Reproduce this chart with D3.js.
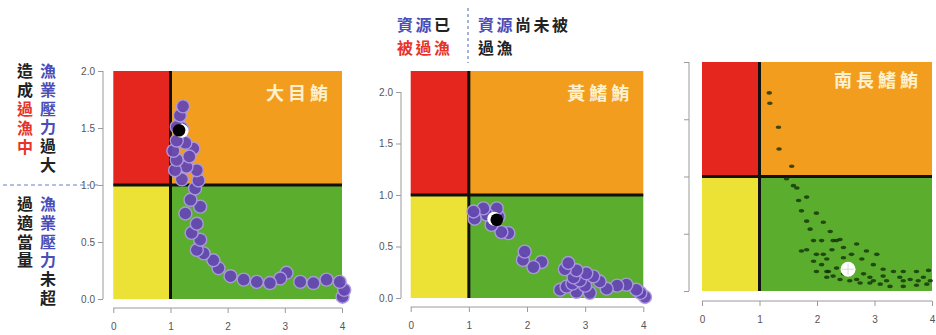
<!DOCTYPE html>
<html>
<head>
<meta charset="utf-8">
<script src="https://cdn.jsdelivr.net/npm/d3@7"></script>
<style>
  body { margin: 0; background: #fff; }
  svg { display: block; }
</style>
</head>
<body>
<svg id="chart" width="936" height="335"></svg>
<script>
// ---- Data: B/Bmsy (x) and F/Fmsy (y) for each stock ----
const xTicks = [0, 1, 2, 3, 4];
const yTicks = [0, 0.5, 1, 1.5, 2];
const stockNames = ["大目鮪", "黃鰭鮪", "南長鰭鮪"];

// 大目鮪 (bigeye) yearly trajectory
const bigeyeB = [4.01, 4.04, 3.96, 3.73, 3.50, 3.27, 3.03, 2.92, 2.74, 2.51, 2.28, 2.05, 1.84, 1.75, 1.58, 1.46,
                 1.52, 1.37, 1.46, 1.26, 1.52, 1.35, 1.43, 1.49, 1.20, 1.46, 1.28, 1.08, 1.11, 1.40, 1.33, 1.05,
                 1.26, 1.11, 1.20, 1.11, 1.165, 1.22];
const bigeyeF = [0.02, 0.08, 0.15, 0.17, 0.14, 0.15, 0.23, 0.18, 0.14, 0.15, 0.17, 0.20, 0.27, 0.34, 0.40, 0.43,
                 0.52, 0.58, 0.66, 0.75, 0.81, 0.87, 0.97, 1.04, 1.05, 1.13, 1.16, 1.13, 1.22, 1.32, 1.25, 1.30,
                 1.37, 1.39, 1.50, 1.51, 1.61, 1.69];
const bigeyeNow = [1.15, 1.48];

// 黃鰭鮪 (yellowfin) yearly trajectory
const yellowfinB = [4.03, 3.95, 3.88, 3.71, 3.55, 3.37, 3.08, 2.85, 2.57, 2.68, 2.78, 3.00, 2.91, 3.25, 3.14, 2.80,
                    3.02, 2.85, 2.65, 2.71, 2.25, 2.11, 1.93, 1.96, 1.68, 1.56, 1.39, 1.51, 1.48, 1.31, 1.10, 1.25, 1.08];
const yellowfinF = [0.01, 0.05, 0.08, 0.13, 0.12, 0.09, 0.05, 0.06, 0.08, 0.11, 0.14, 0.12, 0.17, 0.16, 0.21, 0.20,
                    0.24, 0.27, 0.28, 0.34, 0.35, 0.30, 0.37, 0.45, 0.63, 0.64, 0.71, 0.79, 0.87, 0.81, 0.77, 0.87, 0.84];
const yellowfinNow = [1.48, 0.76];

// 南長鰭鮪 (south albacore) model-run estimates
const albacoreB = [1.17, 1.18, 1.33, 1.34, 1.56, 1.47, 1.59,
                   1.68, 1.73, 1.82, 1.88, 1.94, 1.99, 2.08, 2.17, 2.28, 2.40, 2.57, 2.75, 2.92, 3.10, 3.27, 3.50, 3.73, 3.91,
                   1.65, 1.82, 1.99, 2.11, 2.23, 2.34, 2.46, 2.60, 2.78, 2.98, 3.15, 3.33, 3.50, 3.73, 3.94,
                   1.73, 1.82, 1.94, 2.11, 2.28, 2.40, 2.69, 2.86, 3.04, 2.20, 2.34, 2.57, 2.81, 2.92, 3.15, 3.44,
                   3.62, 3.85, 3.97, 2.17, 2.46, 2.69, 2.98, 3.21, 3.50, 3.76, 2.08, 2.26, 2.46, 2.17, 1.99];
const albacoreF = [1.73, 1.64, 1.43, 1.24, 1.09, 0.98, 0.92,
                   0.79, 0.70, 0.61, 0.54, 0.44, 0.32, 0.23, 0.17, 0.13, 0.10, 0.09, 0.07, 0.07, 0.06, 0.04, 0.04, 0.05, 0.06,
                   0.90, 0.82, 0.68, 0.60, 0.52, 0.44, 0.38, 0.32, 0.28, 0.23, 0.19, 0.17, 0.17, 0.17, 0.18,
                   0.35, 0.36, 0.26, 0.32, 0.44, 0.45, 0.41, 0.35, 0.32, 0.17, 0.20, 0.17, 0.15, 0.12, 0.13, 0.12,
                   0.10, 0.12, 0.09, 0.12, 0.15, 0.10, 0.09, 0.09, 0.09, 0.09, 0.44, 0.36, 0.29, 0.28, 0.17];
const albacoreNow = [2.54, 0.19];

// ---- Layout of the three Kobe panels ----
const panels = [
  { name: stockNames[0], B: bigeyeB, F: bigeyeF, now: bigeyeNow, style: "circle",
    left: 113.3, right: 342, top: 71, bottom: 299, yMax: 2, yAxisX: 103, xAxisY: 308,
    yLabels: true, titleY: 100, nowStyle: "moonR" },
  { name: stockNames[1], B: yellowfinB, F: yellowfinF, now: yellowfinNow, style: "circle",
    left: 410.7, right: 643.3, top: 71, bottom: 298, yMax: 2.204, yAxisX: 401, xAxisY: 307,
    yLabels: true, titleY: 100, nowStyle: "moonL" },
  { name: stockNames[2], B: albacoreB, F: albacoreF, now: albacoreNow, style: "dot",
    left: 702, right: 932, top: 62, bottom: 291, yMax: 2, yAxisX: 689, xAxisY: 301,
    yLabels: false, titleY: 87, nowStyle: "cross" }
];

const colors = { red: "#e5261f", orange: "#f39d1e", yellow: "#ebe235", green: "#5bad2e" };
const cjk = "'Noto Sans CJK TC', 'Noto Sans CJK SC', sans-serif";
const svg = d3.select("#chart");

panels.forEach(p => {
  const x = d3.scaleLinear().domain([0, 4]).range([p.left, p.right]);
  const y = d3.scaleLinear().domain([0, p.yMax]).range([p.bottom, p.top]);
  const g = svg.append("g");

  // quadrants
  const quads = [
    { x0: 0, x1: 1, y0: 1, y1: p.yMax, c: colors.red },
    { x0: 1, x1: 4, y0: 1, y1: p.yMax, c: colors.orange },
    { x0: 0, x1: 1, y0: 0, y1: 1, c: colors.yellow },
    { x0: 1, x1: 4, y0: 0, y1: 1, c: colors.green }
  ];
  g.selectAll("rect.q").data(quads).join("rect")
    .attr("x", d => x(d.x0)).attr("y", d => y(d.y1))
    .attr("width", d => x(d.x1) - x(d.x0)).attr("height", d => y(d.y0) - y(d.y1))
    .attr("fill", d => d.c);

  // reference lines at 1
  g.append("line").attr("x1", x(1)).attr("x2", x(1)).attr("y1", y(p.yMax)).attr("y2", y(0))
    .attr("stroke", "#111").attr("stroke-width", 3);
  g.append("line").attr("x1", x(0)).attr("x2", x(4)).attr("y1", y(1)).attr("y2", y(1))
    .attr("stroke", "#111").attr("stroke-width", 3);

  // stock name
  g.append("text").attr("x", p.right - 10).attr("y", p.titleY)
    .attr("text-anchor", "end").attr("fill", "#fdf1cf")
    .attr("font-family", cjk).attr("font-weight", 700).attr("font-size", 18)
    .attr("letter-spacing", 4).text(p.name);

  // trajectory marks
  const pts = p.B.map((b, i) => [b, p.F[i]]);
  if (p.style === "circle") {
    g.selectAll("circle.pt").data(pts).join("circle")
      .attr("cx", d => x(d[0])).attr("cy", d => y(d[1])).attr("r", 6.5)
      .attr("fill", "#6547b3").attr("stroke", "#ac9be0").attr("stroke-width", 1.4)
      .attr("opacity", 0.95);
  } else {
    g.selectAll("ellipse.pt").data(pts).join("ellipse")
      .attr("cx", d => x(d[0])).attr("cy", d => y(d[1])).attr("rx", 2.8).attr("ry", 1.8)
      .attr("fill", "#10300a").attr("opacity", 0.8);
  }

  // latest estimate
  const cx = x(p.now[0]), cy = y(p.now[1]);
  if (p.nowStyle === "moonR") {
    g.append("circle").attr("cx", cx + 2.5).attr("cy", cy + 0.5).attr("r", 7).attr("fill", "#fff");
    g.append("circle").attr("cx", cx).attr("cy", cy).attr("r", 6.3).attr("fill", "#000");
  } else if (p.nowStyle === "moonL") {
    g.append("circle").attr("cx", cx - 2.5).attr("cy", cy - 1).attr("r", 7).attr("fill", "#fff");
    g.append("circle").attr("cx", cx).attr("cy", cy).attr("r", 6.3).attr("fill", "#000");
  } else {
    g.append("circle").attr("cx", cx).attr("cy", cy).attr("r", 7.5).attr("fill", "#fff");
    g.append("line").attr("x1", cx - 6).attr("x2", cx + 6).attr("y1", cy).attr("y2", cy)
      .attr("stroke", "#d8d8d8").attr("stroke-width", 1);
    g.append("line").attr("x1", cx).attr("x2", cx).attr("y1", cy - 6).attr("y2", cy + 6)
      .attr("stroke", "#d8d8d8").attr("stroke-width", 1);
  }

  // axes, detached from the plot region
  const yAxis = d3.axisLeft(y).tickValues(yTicks).tickSizeOuter(0).tickSize(5)
    .tickFormat(p.yLabels ? d3.format(".1f") : () => "");
  const ya = svg.append("g").attr("transform", `translate(${p.yAxisX},0)`).call(yAxis);
  const xAxis = d3.axisBottom(x).tickValues(xTicks).tickSizeOuter(0).tickSize(5).tickFormat(d3.format("d"));
  const xa = svg.append("g").attr("transform", `translate(0,${p.xAxisY})`).call(xAxis);
  [ya, xa].forEach(a => {
    a.select(".domain").remove();
    a.selectAll(".tick line").attr("stroke", "#9a9a9a");
    a.selectAll(".tick text").attr("fill", "#555").attr("font-size", 10)
      .attr("font-family", "'Liberation Sans', Arial, sans-serif");
  });
  xa.selectAll(".tick text").attr("dy", "1.35em");
  ya.append("line").attr("x1", 0).attr("x2", 0).attr("y1", y(0)).attr("y2", y(2)).attr("stroke", "#9a9a9a");
  xa.append("line").attr("y1", 0).attr("y2", 0).attr("x1", x(0)).attr("x2", x(4)).attr("stroke", "#9a9a9a");
});

// ---- Vertical annotations beside the first panel ----
const blue = "#4b4db8", red = "#e8332a", ink = "#222";
const sideColumns = [
  { x: 25, y0: 63, segs: [["造成", ink], ["過漁中", red]] },
  { x: 48, y0: 63, segs: [["漁業壓力", blue], ["過大", ink]] },
  { x: 25, y0: 196, segs: [["過適當量", ink]] },
  { x: 48, y0: 196, segs: [["漁業壓力", blue], ["未超", ink]] }
];
sideColumns.forEach(col => {
  const t = svg.append("text").attr("x", col.x).attr("y", col.y0)
    .style("writing-mode", "vertical-rl").style("text-orientation", "upright")
    .attr("font-family", cjk).attr("font-weight", 700).attr("font-size", 16)
    .attr("letter-spacing", 2.8);
  col.segs.forEach(([s, c]) => t.append("tspan").attr("fill", c).text(s));
});
svg.append("line").attr("x1", 3).attr("x2", 100).attr("y1", 185).attr("y2", 185)
  .attr("stroke", "#6a7fc0").attr("stroke-width", 1.2).attr("stroke-dasharray", "4,3");

// ---- Horizontal annotations above the second panel ----
const topLines = [
  { x: 397, y: 31, segs: [["資源", blue], ["已", ink]] },
  { x: 397, y: 54, segs: [["被過漁", red]] },
  { x: 478, y: 31, segs: [["資源", blue], ["尚未被", ink]] },
  { x: 478, y: 54, segs: [["過漁", ink]] }
];
topLines.forEach(l => {
  const t = svg.append("text").attr("x", l.x).attr("y", l.y)
    .attr("font-family", cjk).attr("font-weight", 700).attr("font-size", 16).attr("letter-spacing", 2.5);
  l.segs.forEach(([s, c]) => t.append("tspan").attr("fill", c).text(s));
});
svg.append("line").attr("x1", 468).attr("x2", 468).attr("y1", 8).attr("y2", 63)
  .attr("stroke", "#6a7fc0").attr("stroke-width", 1.2).attr("stroke-dasharray", "3,3");
</script>
</body>
</html>
